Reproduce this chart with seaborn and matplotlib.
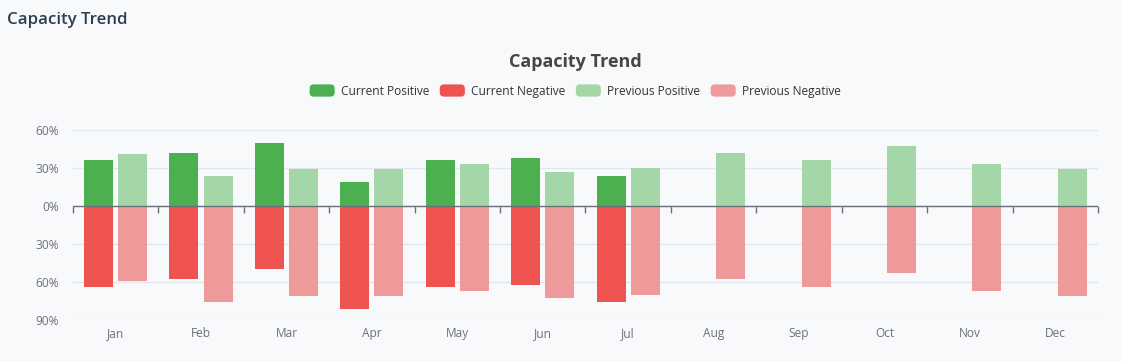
import numpy as np
import pandas as pd
import seaborn as sns
import matplotlib.pyplot as plt
from matplotlib.patches import Patch, FancyBboxPatch
from matplotlib.legend_handler import HandlerPatch
from matplotlib.ticker import FuncFormatter

# Values (percent)
months = ['Jan', 'Feb', 'Mar', 'Apr', 'May', 'Jun', 'Jul', 'Aug', 'Sep', 'Oct', 'Nov', 'Dec']
current_positive = [36, 42, 50, 19, 36, 38, 24, np.nan, np.nan, np.nan, np.nan, np.nan]
current_negative = [-64, -58, -50, -81, -64, -62, -76, np.nan, np.nan, np.nan, np.nan, np.nan]
previous_positive = [41, 24, 29, 29, 33, 27, 30, 42, 36, 47, 33, 29]
previous_negative = [-59, -76, -71, -71, -67, -73, -70, -58, -64, -53, -67, -71]

periods = ['Current', 'Previous']
pos_colors = ['#4caf50', '#a5d6a7']
neg_colors = ['#ef5350', '#ef9a9a']
bg = '#f8f9fb'

# long-form tables for seaborn
pos_df = pd.DataFrame({
    'month': months * 2,
    'period': ['Current'] * 12 + ['Previous'] * 12,
    'value': current_positive + previous_positive,
})
neg_df = pd.DataFrame({
    'month': months * 2,
    'period': ['Current'] * 12 + ['Previous'] * 12,
    'value': current_negative + previous_negative,
})


# rounded legend swatches
class RoundHandler(HandlerPatch):
    def create_artists(self, legend, orig_handle, xdescent, ydescent, width, height, fontsize, trans):
        p = FancyBboxPatch((-xdescent, -ydescent), width, height,
                           boxstyle='round,pad=0,rounding_size=3',
                           facecolor=orig_handle.get_facecolor(), edgecolor='none', transform=trans)
        return [p]


sns.set_style('white')
plt.rcParams['font.family'] = ['Open Sans', 'DejaVu Sans']

fig = plt.figure(figsize=(11.21, 3.61), dpi=100, facecolor=bg)
ax = fig.add_axes([0.065, 0.1136, 0.9145, 0.5264])
ax.set_facecolor(bg)

sns.barplot(data=pos_df, x='month', y='value', hue='period', order=months, hue_order=periods,
            palette=pos_colors, errorbar=None, width=0.8, gap=0.15, ax=ax, legend=False,
            linewidth=0, saturation=1)
sns.barplot(data=neg_df, x='month', y='value', hue='period', order=months, hue_order=periods,
            palette=neg_colors, errorbar=None, width=0.8, gap=0.15, ax=ax, legend=False,
            linewidth=0, saturation=1)

ax.set_xlim(-0.5, len(months) - 0.5)
ax.set_ylim(-90, 60)
ax.set_yticks([60, 30, 0, -30, -60, -90])
ax.yaxis.set_major_formatter(FuncFormatter(lambda v, p: f'{abs(int(v))}%'))
ax.set_xlabel('')
ax.set_ylabel('')
ax.grid(axis='y', color='#e0e6f1', linewidth=1)
ax.set_axisbelow(True)
for s in ax.spines.values():
    s.set_visible(False)
ax.tick_params(axis='both', length=0, labelsize=8.6, colors='#6e7079')
ax.tick_params(axis='x', pad=5)
ax.tick_params(axis='y', pad=10)

# zero axis line with category boundary ticks pointing down
zero = ax.secondary_xaxis(0.6)
zero.set_xticks(np.arange(-0.5, len(months), 1.0))
zero.set_xticklabels([])
zero.xaxis.set_ticks_position('bottom')
zero.tick_params(axis='x', which='both', bottom=True, top=False, direction='out',
                 length=5, width=1, colors='#6e7079')
for name in ['top', 'left', 'right', 'bottom']:
    zero.spines[name].set_visible(False)
ax.axhline(0, color='#6e7079', linewidth=1, zorder=3)

# titles
fig.text(0.006, 0.945, 'Capacity Trend', fontsize=12.2, fontweight='semibold',
         color='#2c3e50', ha='left', va='center')
fig.text(0.513, 0.828, 'Capacity Trend', fontsize=13, fontweight='bold',
         color='#464646', ha='center', va='center')

handles = [Patch(facecolor=pos_colors[0], label='Current Positive'),
           Patch(facecolor=neg_colors[0], label='Current Negative'),
           Patch(facecolor=pos_colors[1], label='Previous Positive'),
           Patch(facecolor=neg_colors[1], label='Previous Negative')]
fig.legend(handles=handles, loc='center', bbox_to_anchor=(0.513, 0.748), ncol=4,
           frameon=False, fontsize=8.6, handlelength=2.1, handleheight=1.2,
           handletextpad=0.5, columnspacing=0.9, labelcolor='#333333',
           handler_map={Patch: RoundHandler()})

fig.savefig('out.png', dpi=100, facecolor=bg)
